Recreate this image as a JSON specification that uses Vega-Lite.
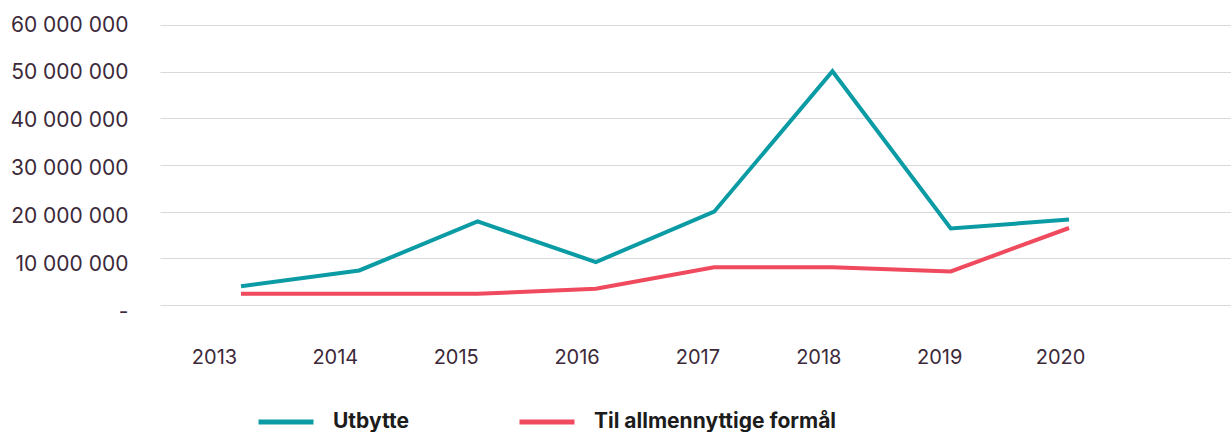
{
  "$schema": "https://vega.github.io/schema/vega-lite/v6.json",
  "autosize": {"type": "none"},
  "padding": {"left": 160, "top": 25, "right": 0, "bottom": 127},
  "width": 1071,
  "height": 280,
  "background": "white",
  "config": {
    "view": {"stroke": null},
    "font": "Inter"
  },
  "data": {
    "values": [
      {"year": 2013, "series": "Utbytte", "value": 4000000},
      {"year": 2014, "series": "Utbytte", "value": 7400000},
      {"year": 2015, "series": "Utbytte", "value": 17900000},
      {"year": 2016, "series": "Utbytte", "value": 9200000},
      {"year": 2017, "series": "Utbytte", "value": 20000000},
      {"year": 2018, "series": "Utbytte", "value": 50100000},
      {"year": 2019, "series": "Utbytte", "value": 16400000},
      {"year": 2020, "series": "Utbytte", "value": 18300000},
      {"year": 2013, "series": "Til allmennyttige formål", "value": 2400000},
      {"year": 2014, "series": "Til allmennyttige formål", "value": 2400000},
      {"year": 2015, "series": "Til allmennyttige formål", "value": 2400000},
      {"year": 2016, "series": "Til allmennyttige formål", "value": 3500000},
      {"year": 2017, "series": "Til allmennyttige formål", "value": 8100000},
      {"year": 2018, "series": "Til allmennyttige formål", "value": 8100000},
      {"year": 2019, "series": "Til allmennyttige formål", "value": 7200000},
      {"year": 2020, "series": "Til allmennyttige formål", "value": 16500000}
    ]
  },
  "layer": [
    {
      "mark": {"type": "line", "strokeWidth": 4, "strokeCap": "butt", "strokeJoin": "miter"},
      "encoding": {
        "x": {
          "field": "year", "type": "quantitative",
          "scale": {"domain": [2012.3152, 2021.3693], "nice": false, "zero": false},
          "axis": null
        },
        "y": {
          "field": "value", "type": "quantitative",
          "scale": {"domain": [0, 60000000], "nice": false, "zero": true},
          "axis": {
            "title": null,
            "values": [0, 10000000, 20000000, 30000000, 40000000, 50000000, 60000000],
            "domain": false,
            "ticks": false,
            "grid": true,
            "gridColor": "#d9d9d9",
            "gridWidth": 1.2,
            "labelPadding": 32,
            "labelFont": "Inter",
            "labelFontSize": 21,
            "labelColor": "#3c2a3a",
            "labelOffset": {"expr": "(60000000 - datum.value) / 10000000 * 1.2"},
            "labelExpr": "datum.value == 0 ? '-' : replace(format(datum.value, ',d'), regexp(',', 'g'), ' ')"
          }
        },
        "color": {
          "field": "series", "type": "nominal",
          "scale": {
            "domain": ["Utbytte", "Til allmennyttige formål"],
            "range": ["#0a9ba4", "#ef4a5e"]
          },
          "legend": {
            "title": null,
            "orient": "none",
            "direction": "horizontal",
            "legendX": 96,
            "legendY": 367,
            "padding": 0,
            "symbolType": "stroke",
            "symbolSize": 3025,
            "symbolStrokeWidth": 5,
            "labelOffset": 17,
            "columnPadding": 100,
            "labelFont": "Inter",
            "labelFontSize": 21,
            "labelFontWeight": "bold",
            "labelColor": "#1c1c1c",
            "labelLimit": 400
          }
        }
      }
    },
    {
      "mark": {"type": "point", "opacity": 0},
      "encoding": {
        "x": {
          "field": "year", "type": "ordinal",
          "scale": {"type": "point", "range": [54, 900], "padding": 0},
          "axis": {
            "title": null,
            "orient": "bottom",
            "domain": false,
            "ticks": false,
            "grid": false,
            "labelAngle": 0,
            "labelPadding": 42,
            "labelFont": "Inter",
            "labelFontSize": 20,
            "labelColor": "#3c2a3a"
          }
        }
      }
    }
  ],
  "resolve": {"scale": {"x": "independent"}}
}
